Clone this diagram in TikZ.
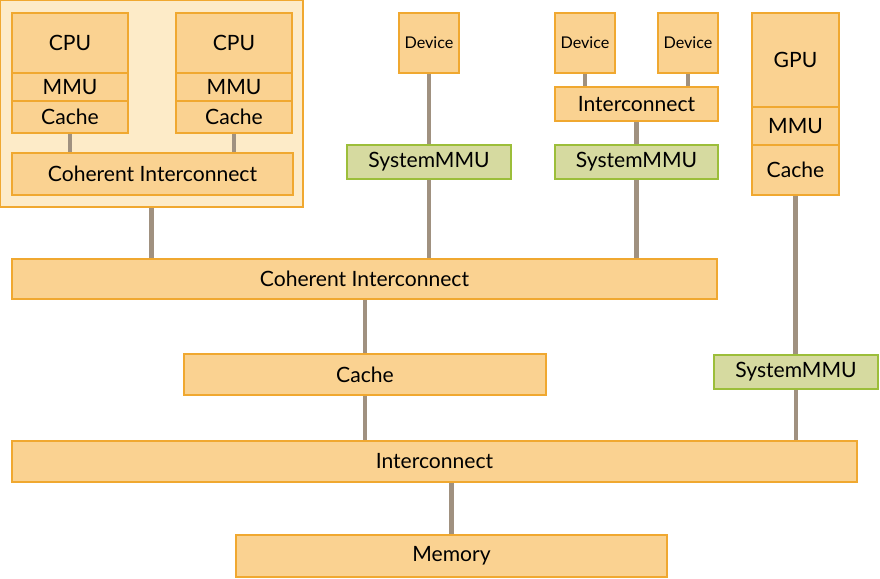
\documentclass[tikz,border=0pt]{standalone}
\usepackage{fontspec}
\setmainfont{Lato}
\definecolor{boxfill}{RGB}{250,210,145}
\definecolor{boxline}{RGB}{240,168,48}
\definecolor{grpfill}{RGB}{253,235,200}
\definecolor{mmufill}{RGB}{214,218,160}
\definecolor{mmuline}{RGB}{156,190,58}
\definecolor{wire}{RGB}{160,145,128}

\begin{document}
\begin{tikzpicture}[x=0.025cm,y=-0.025cm]
        \tikzset{every node/.style={font=\fontsize{15}{17}\selectfont, inner sep=0pt},
                 blk/.style={draw=boxline, fill=boxfill, line width=1.4pt},
                 smmu/.style={draw=mmuline, fill=mmufill, line width=1.4pt, minimum height=0.85cm},
                 dev/.style={blk, minimum width=1.5cm, minimum height=1.5cm, font=\fontsize{11.5}{13}\selectfont},
                 link/.style={draw=wire, line width=3.5pt}}
        \useasboundingbox (0,0) rectangle (880,578);

        % cluster of two cpus
        \node[draw=boxline, fill=grpfill, line width=1.4pt, minimum width=7.575cm, minimum height=5.175cm] (cluster) at (151.5,103.5) {};

        \node[blk, minimum width=2.9cm, minimum height=1.5cm] (cpua) at (70,43) {CPU};
        \node[blk, minimum width=2.9cm, minimum height=0.7cm] (mmua) at (70,87) {MMU};
        \node[blk, minimum width=2.9cm, minimum height=0.8cm] (cachea) at (70,117) {Cache};

        \node[blk, minimum width=2.9cm, minimum height=1.5cm] (cpub) at (234,43) {CPU};
        \node[blk, minimum width=2.9cm, minimum height=0.7cm] (mmub) at (234,87) {MMU};
        \node[blk, minimum width=2.9cm, minimum height=0.8cm] (cacheb) at (234,117) {Cache};

        \node[blk, minimum width=7.025cm, minimum height=1.05cm] (cohin) at (152.5,174) {Coherent Interconnect};

        % devices
        \node[dev] (deva) at (429,43) {Device};
        \node[smmu, minimum width=4.1cm] (smmua) at (429,162) {SystemMMU};

        \node[dev] (devb) at (585,43) {Device};
        \node[dev] (devc) at (688,43) {Device};
        \node[blk, minimum width=4.075cm, minimum height=0.85cm] (icdev) at (636.5,104) {Interconnect};
        \node[smmu, minimum width=4.075cm] (smmub) at (636.5,162) {SystemMMU};

        % gpu
        \node[blk, minimum width=2.175cm, minimum height=2.35cm] (gpu) at (795.5,60) {GPU};
        \node[blk, minimum width=2.175cm, minimum height=0.95cm] (mmug) at (795.5,126) {MMU};
        \node[blk, minimum width=2.175cm, minimum height=1.25cm] (cacheg) at (795.5,170) {Cache};
        \node[smmu, minimum width=4.1cm] (smmug) at (796,372) {SystemMMU};

        % system level
        \node[blk, minimum width=17.625cm, minimum height=1.0cm] (cohout) at (364.5,279) {Coherent Interconnect};
        \node[blk, minimum width=9.05cm, minimum height=1.025cm] (l3) at (365,374.5) {Cache};
        \node[blk, minimum width=21.125cm, minimum height=1.025cm] (ic) at (434.5,461.5) {Interconnect};
        \node[blk, minimum width=10.775cm, minimum height=1.05cm] (mem) at (451.5,556) {Memory};

        % wires
        \draw[link] (cachea.south) -- (cachea.south |- cohin.north);
        \draw[link] (cacheb.south) -- (cacheb.south |- cohin.north);
        \draw[link] (cluster.south) -- (cluster.south |- cohout.north);
        \draw[link] (deva.south) -- (deva.south |- smmua.north);
        \draw[link] (smmua.south) -- (smmua.south |- cohout.north);
        \draw[link] (devb.south) -- (devb.south |- icdev.north);
        \draw[link] (devc.south) -- (devc.south |- icdev.north);
        \draw[link] (icdev.south) -- (smmub.north);
        \draw[link] (smmub.south) -- (smmub.south |- cohout.north);
        \draw[link] (cacheg.south) -- (cacheg.south |- smmug.north);
        \draw[link] (smmug.south) -- (smmug.south |- ic.north);
        \draw[link] (cohout.south -| l3.north) -- (l3.north);
        \draw[link] (l3.south) -- (l3.south |- ic.north);
        \draw[link] (mem.north |- ic.south) -- (mem.north);
  \end{tikzpicture}
\end{document}
